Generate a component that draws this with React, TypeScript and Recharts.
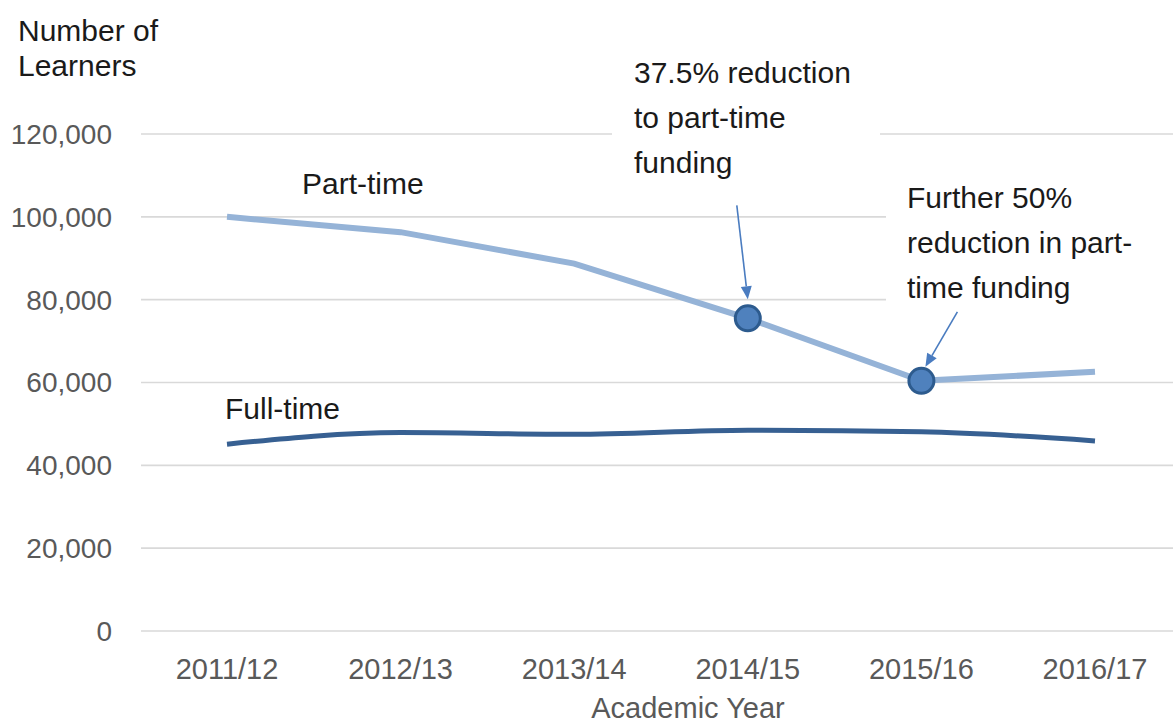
import { LineChart, Line, XAxis, YAxis, CartesianGrid } from "recharts";

const years = ["2011/12", "2012/13", "2013/14", "2014/15", "2015/16", "2016/17"];
const partTime = [100000, 96300, 88700, 75500, 60400, 62600];
const fullTime = [45100, 47900, 47500, 48500, 48100, 45900];
const yTicks = [0, 20000, 40000, 60000, 80000, 100000, 120000];
// points on the part-time line that get a marker + arrow
const markedYears = ["2014/15", "2015/16"];

const FONT = '"Liberation Sans", Arial, sans-serif';
const GREY = "#595959";
const ARROW = "#4a7cc0";

const data = years.map((year, i) => ({
  year,
  partTime: partTime[i],
  fullTime: fullTime[i],
}));

// arrow start/tip offsets relative to the marked point
const arrowOffsets: Record<string, { sx: number; sy: number; tx: number; ty: number }> = {
  "2014/15": { sx: -11, sy: -113, tx: 0, ty: -19 },
  "2015/16": { sx: 36, sy: -69, tx: 4, ty: -14 },
};

function Arrow({ x1, y1, x2, y2 }: { x1: number; y1: number; x2: number; y2: number }) {
  const ang = Math.atan2(y2 - y1, x2 - x1);
  const len = 13;
  const half = 5.5;
  const bx = x2 - len * Math.cos(ang);
  const by = y2 - len * Math.sin(ang);
  const px = -Math.sin(ang) * half;
  const py = Math.cos(ang) * half;
  return (
    <g>
      <line x1={x1} y1={y1} x2={bx} y2={by} stroke={ARROW} strokeWidth={1.6} />
      <polygon
        points={`${x2},${y2} ${bx + px},${by + py} ${bx - px},${by - py}`}
        fill={ARROW}
      />
    </g>
  );
}

function MarkerDot(props: any) {
  const { cx, cy, payload, index } = props;
  if (!markedYears.includes(payload.year)) return <g key={`d-${index}`} />;
  const o = arrowOffsets[payload.year];
  return (
    <g key={`d-${index}`}>
      <Arrow x1={cx + o.sx} y1={cy + o.sy} x2={cx + o.tx} y2={cy + o.ty} />
      <circle cx={cx} cy={cy} r={12.5} fill="#4f81bd" stroke="#2d5b8e" strokeWidth={3} />
    </g>
  );
}

const textStyle: React.CSSProperties = {
  position: "absolute",
  fontFamily: FONT,
  fontSize: 30,
  color: "#1a1a1a",
  whiteSpace: "nowrap",
};

export default function App() {
  return (
    <div
      style={{
        position: "absolute",
        left: 0,
        top: 0,
        width: 1173,
        height: 726,
        background: "#fff",
        overflow: "hidden",
        fontFamily: FONT,
      }}
    >
      <LineChart
        width={1173}
        height={726}
        data={data}
        margin={{ top: 134, right: 0, left: 0, bottom: 0 }}
      >
        <CartesianGrid vertical={false} stroke="#d9d9d9" strokeWidth={1.6} />
        <XAxis
          dataKey="year"
          height={95}
          padding={{ left: 86, right: 78 }}
          axisLine={false}
          tickLine={false}
          tickMargin={21}
          tick={{ fill: GREY, fontSize: 29, fontFamily: FONT }}
        />
        <YAxis
          width={141}
          domain={[0, 120000]}
          ticks={yTicks}
          axisLine={false}
          tickLine={false}
          tickMargin={23}
          tick={{ fill: GREY, fontSize: 28, fontFamily: FONT }}
          tickFormatter={(v: number) => v.toLocaleString("en-US")}
        />
        <Line
          dataKey="fullTime"
          type="monotone"
          stroke="#376092"
          strokeWidth={5}
          dot={false}
          activeDot={false}
          isAnimationActive={false}
        />
        <Line
          dataKey="partTime"
          type="linear"
          stroke="#95b3d7"
          strokeWidth={6}
          dot={MarkerDot}
          activeDot={false}
          isAnimationActive={false}
        />
      </LineChart>

      <div style={{ ...textStyle, left: 18, top: 13, lineHeight: "35px" }}>
        Number of
        <br />
        Learners
      </div>
      <div style={{ ...textStyle, left: 302, top: 166, lineHeight: "35px" }}>Part-time</div>
      <div style={{ ...textStyle, left: 225, top: 391, lineHeight: "35px" }}>Full-time</div>
      <div
        style={{
          ...textStyle,
          left: 612,
          top: 50,
          width: 268,
          paddingLeft: 22,
          boxSizing: "border-box",
          lineHeight: "45px",
          background: "#fff",
        }}
      >
        37.5% reduction
        <br />
        to part-time
        <br />
        funding
      </div>
      <div
        style={{
          ...textStyle,
          left: 886,
          top: 175,
          width: 287,
          paddingLeft: 21,
          boxSizing: "border-box",
          lineHeight: "45px",
          background: "#fff",
        }}
      >
        Further 50%
        <br />
        reduction in part-
        <br />
        time funding
      </div>
      <div
        style={{
          ...textStyle,
          left: 688,
          top: 692,
          transform: "translateX(-50%)",
          color: GREY,
          fontSize: 29,
          lineHeight: "32px",
        }}
      >
        Academic Year
      </div>
    </div>
  );
}
